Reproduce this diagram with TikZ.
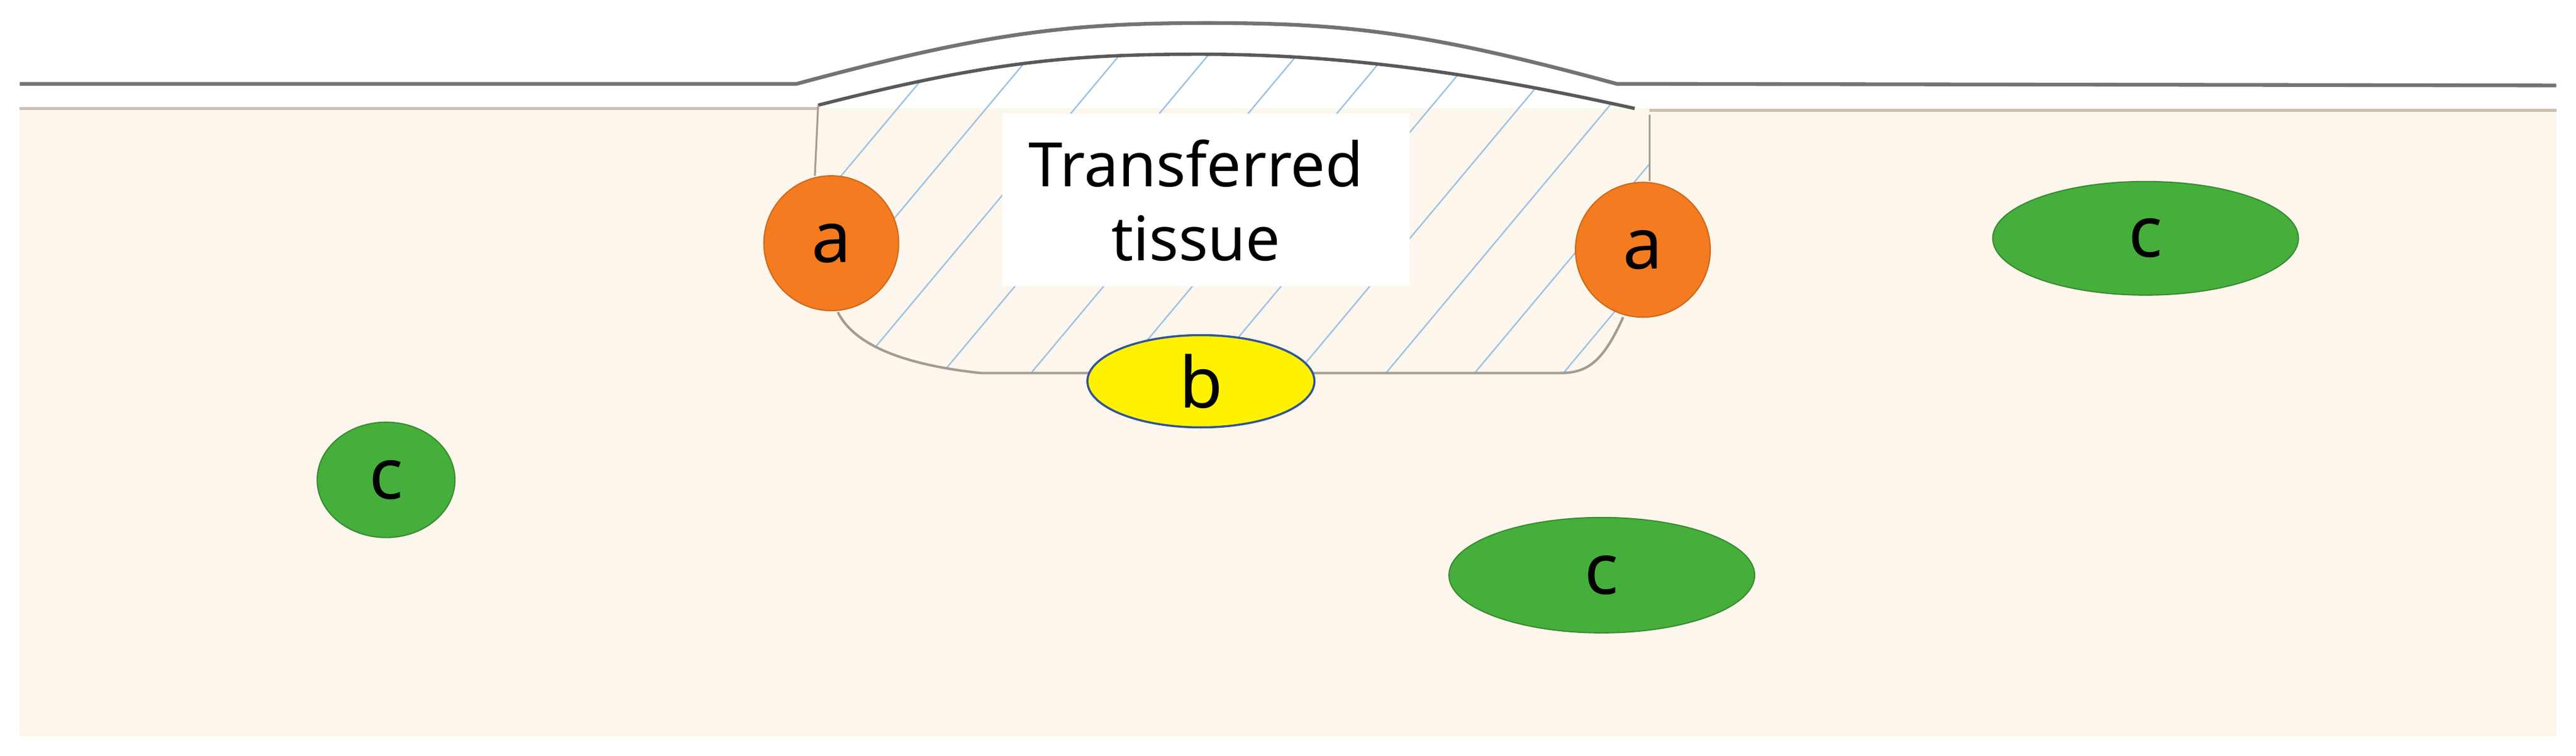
\documentclass[tikz,border=0pt]{standalone}
\usepackage{fontspec}
\setmainfont{Noto Sans}
\usetikzlibrary{shapes.geometric}
\definecolor{beige}{HTML}{FDF6EC}
\definecolor{edgegray}{HTML}{C9BFB3}
\definecolor{tisline}{HTML}{A39C92}
\definecolor{hatch}{HTML}{9DC3E6}
\definecolor{orng}{HTML}{F47B20}
\definecolor{grn}{HTML}{46AF3C}
\definecolor{bblue}{HTML}{2F5597}
\tikzset{
  lab/.style={font=\fontsize{34}{36}\selectfont\bfseries, inner sep=0pt},
  anode/.style={ellipse, lab, fill=orng, draw=orng!85!black, line width=0.6pt, minimum width=2.28cm, minimum height=2.28cm},
  cnode/.style={ellipse, lab, fill=grn, draw=grn!80!black, line width=0.6pt},
  bnode/.style={ellipse, lab, fill=yellow, draw=bblue, line width=1pt, minimum width=3.84cm, minimum height=1.56cm},
}
\begin{document}
\begin{tikzpicture}[x=0.02778cm, y=-0.02778cm]
\useasboundingbox (0,0) rectangle (1568,460);
\fill[white] (0,0) rectangle (1568,460);
% beige body
\fill[beige] (12,66) rectangle (1556,448);
% white bump region above tissue
\fill[white] (498,66) .. controls (600,38) and (650,33) .. (730,33) .. controls (820,33) and (900,45) .. (995,66) -- cycle;
% hatching clipped to tissue
\begin{scope}
\clip (498,64) .. controls (600,38) and (650,33) .. (730,33) .. controls (820,33) and (900,45) .. (995,66)
  -- (1004,70) -- (1004,193) -- (988,193) .. controls (975,222) and (965,227) .. (949,227) -- (597,227)
  .. controls (550,222) and (520,210) .. (510,190) -- (496,107) -- cycle;
\foreach \i in {0,...,14} {
  \draw[hatch, line width=0.7pt] (330+\i*54,260) -- ++(220,-263);
}
\end{scope}
% beige top edge
\draw[edgegray, line width=1.4pt] (12,66) -- (498,66);
\draw[edgegray, line width=1.4pt] (1004,67) -- (1556,67);
% skin outer line
\draw[gray!90!black, line width=1.8pt] (12,51) -- (485,51) .. controls (600,20) and (650,14) .. (735,14) .. controls (820,14) and (870,20) .. (984,51) -- (1556,52);
% inner graft top
\draw[gray!70!black, line width=1.6pt] (498,64) .. controls (600,38) and (650,33) .. (730,33) .. controls (820,33) and (900,45) .. (995,66);
% tissue outline
\draw[tisline, line width=0.9pt] (498,64) -- (496,107);
\draw[tisline, line width=0.9pt] (1004,70) -- (1004,110);
\draw[tisline, line width=1.2pt] (510,190) .. controls (520,210) and (550,222) .. (597,227) -- (949,227) .. controls (965,227) and (975,222) .. (988,193);
% text box
\node[fill=white, minimum width=6.89cm, minimum height=2.92cm, inner sep=0pt] (box) at (734,121.5) {};
\node[font=\fontsize{29.5}{35.5}\selectfont\bfseries, align=center, inner sep=0pt] (tt) at (728,122) {Transferred\\tissue};
% labelled nodes
\node[anode] (a1) at (506,148) {a};
\node[anode] (a2) at (1000,152) {a};
\node[bnode] (b) at (731,232) {b};
\node[cnode, minimum width=5.17cm, minimum height=1.92cm] (c1) at (1306,145) {c};
\node[cnode, minimum width=2.33cm, minimum height=1.95cm] (c2) at (235,292) {c};
\node[cnode, minimum width=5.17cm, minimum height=1.95cm] (c3) at (975,350) {c};
\end{tikzpicture}
\end{document}
